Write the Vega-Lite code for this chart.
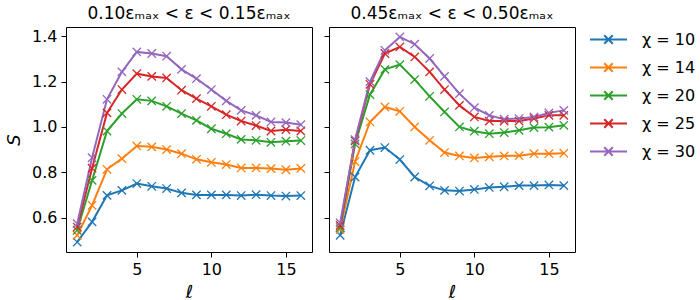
{
"$schema": "https://vega.github.io/schema/vega-lite/v6.json",
"background": "white",
"padding": {"left": 5, "top": 4, "right": 5, "bottom": 5},
"datasets": {"d": [
{"p":"A","c":"χ = 10","l":1,"S":0.492},{"p":"A","c":"χ = 10","l":2,"S":0.581},{"p":"A","c":"χ = 10","l":3,"S":0.698},{"p":"A","c":"χ = 10","l":4,"S":0.720},{"p":"A","c":"χ = 10","l":5,"S":0.750},{"p":"A","c":"χ = 10","l":6,"S":0.738},{"p":"A","c":"χ = 10","l":7,"S":0.728},{"p":"A","c":"χ = 10","l":8,"S":0.709},{"p":"A","c":"χ = 10","l":9,"S":0.700},{"p":"A","c":"χ = 10","l":10,"S":0.700},{"p":"A","c":"χ = 10","l":11,"S":0.700},{"p":"A","c":"χ = 10","l":12,"S":0.697},{"p":"A","c":"χ = 10","l":13,"S":0.701},{"p":"A","c":"χ = 10","l":14,"S":0.697},{"p":"A","c":"χ = 10","l":15,"S":0.695},{"p":"A","c":"χ = 10","l":16,"S":0.697},
{"p":"A","c":"χ = 14","l":1,"S":0.522},{"p":"A","c":"χ = 14","l":2,"S":0.654},{"p":"A","c":"χ = 14","l":3,"S":0.813},{"p":"A","c":"χ = 14","l":4,"S":0.860},{"p":"A","c":"χ = 14","l":5,"S":0.916},{"p":"A","c":"χ = 14","l":6,"S":0.912},{"p":"A","c":"χ = 14","l":7,"S":0.900},{"p":"A","c":"χ = 14","l":8,"S":0.882},{"p":"A","c":"χ = 14","l":9,"S":0.857},{"p":"A","c":"χ = 14","l":10,"S":0.844},{"p":"A","c":"χ = 14","l":11,"S":0.834},{"p":"A","c":"χ = 14","l":12,"S":0.819},{"p":"A","c":"χ = 14","l":13,"S":0.819},{"p":"A","c":"χ = 14","l":14,"S":0.816},{"p":"A","c":"χ = 14","l":15,"S":0.811},{"p":"A","c":"χ = 14","l":16,"S":0.817},
{"p":"A","c":"χ = 20","l":1,"S":0.544},{"p":"A","c":"χ = 20","l":2,"S":0.764},{"p":"A","c":"χ = 20","l":3,"S":0.982},{"p":"A","c":"χ = 20","l":4,"S":1.059},{"p":"A","c":"χ = 20","l":5,"S":1.122},{"p":"A","c":"χ = 20","l":6,"S":1.115},{"p":"A","c":"χ = 20","l":7,"S":1.091},{"p":"A","c":"χ = 20","l":8,"S":1.059},{"p":"A","c":"χ = 20","l":9,"S":1.029},{"p":"A","c":"χ = 20","l":10,"S":0.992},{"p":"A","c":"χ = 20","l":11,"S":0.970},{"p":"A","c":"χ = 20","l":12,"S":0.945},{"p":"A","c":"χ = 20","l":13,"S":0.941},{"p":"A","c":"χ = 20","l":14,"S":0.932},{"p":"A","c":"χ = 20","l":15,"S":0.937},{"p":"A","c":"χ = 20","l":16,"S":0.940},
{"p":"A","c":"χ = 25","l":1,"S":0.558},{"p":"A","c":"χ = 25","l":2,"S":0.818},{"p":"A","c":"χ = 25","l":3,"S":1.062},{"p":"A","c":"χ = 25","l":4,"S":1.165},{"p":"A","c":"χ = 25","l":5,"S":1.235},{"p":"A","c":"χ = 25","l":6,"S":1.223},{"p":"A","c":"χ = 25","l":7,"S":1.216},{"p":"A","c":"χ = 25","l":8,"S":1.162},{"p":"A","c":"χ = 25","l":9,"S":1.125},{"p":"A","c":"χ = 25","l":10,"S":1.091},{"p":"A","c":"χ = 25","l":11,"S":1.054},{"p":"A","c":"χ = 25","l":12,"S":1.026},{"p":"A","c":"χ = 25","l":13,"S":1.006},{"p":"A","c":"χ = 25","l":14,"S":0.982},{"p":"A","c":"χ = 25","l":15,"S":0.988},{"p":"A","c":"χ = 25","l":16,"S":0.982},
{"p":"A","c":"χ = 30","l":1,"S":0.573},{"p":"A","c":"χ = 30","l":2,"S":0.864},{"p":"A","c":"χ = 30","l":3,"S":1.122},{"p":"A","c":"χ = 30","l":4,"S":1.243},{"p":"A","c":"χ = 30","l":5,"S":1.331},{"p":"A","c":"χ = 30","l":6,"S":1.324},{"p":"A","c":"χ = 30","l":7,"S":1.312},{"p":"A","c":"χ = 30","l":8,"S":1.254},{"p":"A","c":"χ = 30","l":9,"S":1.213},{"p":"A","c":"χ = 30","l":10,"S":1.165},{"p":"A","c":"χ = 30","l":11,"S":1.115},{"p":"A","c":"χ = 30","l":12,"S":1.073},{"p":"A","c":"χ = 30","l":13,"S":1.051},{"p":"A","c":"χ = 30","l":14,"S":1.022},{"p":"A","c":"χ = 30","l":15,"S":1.019},{"p":"A","c":"χ = 30","l":16,"S":1.010},
{"p":"B","c":"χ = 10","l":1,"S":0.522},{"p":"B","c":"χ = 10","l":2,"S":0.779},{"p":"B","c":"χ = 10","l":3,"S":0.897},{"p":"B","c":"χ = 10","l":4,"S":0.909},{"p":"B","c":"χ = 10","l":5,"S":0.856},{"p":"B","c":"χ = 10","l":6,"S":0.779},{"p":"B","c":"χ = 10","l":7,"S":0.740},{"p":"B","c":"χ = 10","l":8,"S":0.720},{"p":"B","c":"χ = 10","l":9,"S":0.717},{"p":"B","c":"χ = 10","l":10,"S":0.724},{"p":"B","c":"χ = 10","l":11,"S":0.733},{"p":"B","c":"χ = 10","l":12,"S":0.736},{"p":"B","c":"χ = 10","l":13,"S":0.741},{"p":"B","c":"χ = 10","l":14,"S":0.741},{"p":"B","c":"χ = 10","l":15,"S":0.744},{"p":"B","c":"χ = 10","l":16,"S":0.741},
{"p":"B","c":"χ = 14","l":1,"S":0.548},{"p":"B","c":"χ = 14","l":2,"S":0.847},{"p":"B","c":"χ = 14","l":3,"S":1.022},{"p":"B","c":"χ = 14","l":4,"S":1.088},{"p":"B","c":"χ = 14","l":5,"S":1.069},{"p":"B","c":"χ = 14","l":6,"S":1.000},{"p":"B","c":"χ = 14","l":7,"S":0.941},{"p":"B","c":"χ = 14","l":8,"S":0.887},{"p":"B","c":"χ = 14","l":9,"S":0.872},{"p":"B","c":"χ = 14","l":10,"S":0.863},{"p":"B","c":"χ = 14","l":11,"S":0.868},{"p":"B","c":"χ = 14","l":12,"S":0.872},{"p":"B","c":"χ = 14","l":13,"S":0.873},{"p":"B","c":"χ = 14","l":14,"S":0.882},{"p":"B","c":"χ = 14","l":15,"S":0.882},{"p":"B","c":"χ = 14","l":16,"S":0.884},
{"p":"B","c":"χ = 20","l":1,"S":0.556},{"p":"B","c":"χ = 20","l":2,"S":0.925},{"p":"B","c":"χ = 20","l":3,"S":1.143},{"p":"B","c":"χ = 20","l":4,"S":1.254},{"p":"B","c":"χ = 20","l":5,"S":1.275},{"p":"B","c":"χ = 20","l":6,"S":1.209},{"p":"B","c":"χ = 20","l":7,"S":1.135},{"p":"B","c":"χ = 20","l":8,"S":1.066},{"p":"B","c":"χ = 20","l":9,"S":1.000},{"p":"B","c":"χ = 20","l":10,"S":0.981},{"p":"B","c":"χ = 20","l":11,"S":0.970},{"p":"B","c":"χ = 20","l":12,"S":0.975},{"p":"B","c":"χ = 20","l":13,"S":0.985},{"p":"B","c":"χ = 20","l":14,"S":0.997},{"p":"B","c":"χ = 20","l":15,"S":0.999},{"p":"B","c":"χ = 20","l":16,"S":1.007},
{"p":"B","c":"χ = 25","l":1,"S":0.565},{"p":"B","c":"χ = 25","l":2,"S":0.938},{"p":"B","c":"χ = 25","l":3,"S":1.188},{"p":"B","c":"χ = 25","l":4,"S":1.324},{"p":"B","c":"χ = 25","l":5,"S":1.353},{"p":"B","c":"χ = 25","l":6,"S":1.309},{"p":"B","c":"χ = 25","l":7,"S":1.243},{"p":"B","c":"χ = 25","l":8,"S":1.165},{"p":"B","c":"χ = 25","l":9,"S":1.095},{"p":"B","c":"χ = 25","l":10,"S":1.044},{"p":"B","c":"χ = 25","l":11,"S":1.026},{"p":"B","c":"χ = 25","l":12,"S":1.026},{"p":"B","c":"χ = 25","l":13,"S":1.026},{"p":"B","c":"χ = 25","l":14,"S":1.037},{"p":"B","c":"χ = 25","l":15,"S":1.051},{"p":"B","c":"χ = 25","l":16,"S":1.051},
{"p":"B","c":"χ = 30","l":1,"S":0.576},{"p":"B","c":"χ = 30","l":2,"S":0.944},{"p":"B","c":"χ = 30","l":3,"S":1.200},{"p":"B","c":"χ = 30","l":4,"S":1.338},{"p":"B","c":"χ = 30","l":5,"S":1.397},{"p":"B","c":"χ = 30","l":6,"S":1.365},{"p":"B","c":"χ = 30","l":7,"S":1.302},{"p":"B","c":"χ = 30","l":8,"S":1.223},{"p":"B","c":"χ = 30","l":9,"S":1.147},{"p":"B","c":"χ = 30","l":10,"S":1.085},{"p":"B","c":"χ = 30","l":11,"S":1.051},{"p":"B","c":"χ = 30","l":12,"S":1.034},{"p":"B","c":"χ = 30","l":13,"S":1.037},{"p":"B","c":"χ = 30","l":14,"S":1.044},{"p":"B","c":"χ = 30","l":15,"S":1.062},{"p":"B","c":"χ = 30","l":16,"S":1.073}
]},
"spacing": 10,
"hconcat": [
 {
  "width": 246, "height": 225,
  "title": "0.10εₘₐₓ < ε < 0.15εₘₐₓ",
  "data": {"name": "d"},
  "transform": [{"filter": "datum.p == 'A'"}],
  "encoding": {
   "x": {"field": "l", "type": "quantitative", "scale": {"domain": [0.25, 16.75], "nice": false, "zero": false}, "axis": {"values": [5, 10, 15], "title": "ℓ"}},
   "y": {"field": "S", "type": "quantitative", "scale": {"domain": [0.448, 1.441], "nice": false, "zero": false}, "axis": {"values": [0.6, 0.8, 1.0, 1.2, 1.4], "format": ".1f", "title": "S", "titleFontStyle": "italic"}},
   "color": {"field": "c", "type": "nominal", "scale": {"domain": ["χ = 10", "χ = 14", "χ = 20", "χ = 25", "χ = 30"], "range": ["#1f77b4", "#ff7f0e", "#2ca02c", "#d62728", "#9467bd"]}, "title": null}
  },
  "layer": [
   {"mark": {"type": "line", "strokeWidth": 2}},
   {"mark": {"type": "point", "shape": "M-1,-1L1,1M-1,1L1,-1", "filled": false, "size": 70, "strokeWidth": 1.3, "opacity": 1}}
  ]
 },
 {
  "width": 246, "height": 225,
  "title": "0.45εₘₐₓ < ε < 0.50εₘₐₓ",
  "data": {"name": "d"},
  "transform": [{"filter": "datum.p == 'B'"}],
  "encoding": {
   "x": {"field": "l", "type": "quantitative", "scale": {"domain": [0.25, 16.75], "nice": false, "zero": false}, "axis": {"values": [5, 10, 15], "title": "ℓ"}},
   "y": {"field": "S", "type": "quantitative", "scale": {"domain": [0.448, 1.441], "nice": false, "zero": false}, "axis": {"values": [0.6, 0.8, 1.0, 1.2, 1.4], "labels": false, "title": null}},
   "color": {"field": "c", "type": "nominal", "scale": {"domain": ["χ = 10", "χ = 14", "χ = 20", "χ = 25", "χ = 30"], "range": ["#1f77b4", "#ff7f0e", "#2ca02c", "#d62728", "#9467bd"]}, "title": null}
  },
  "layer": [
   {"mark": {"type": "line", "strokeWidth": 2}},
   {"mark": {"type": "point", "shape": "M-1,-1L1,1M-1,1L1,-1", "filled": false, "size": 70, "strokeWidth": 1.3, "opacity": 1}}
  ]
 }
],
"resolve": {"scale": {"color": "shared"}},
"config": {
 "font": "DejaVu Sans",
 "view": {"stroke": "black", "strokeWidth": 1},
 "title": {"fontSize": 17, "fontWeight": "normal", "color": "black", "offset": 4, "font": "DejaVu Sans"},
 "axis": {"grid": false, "domain": false, "tickColor": "black", "tickSize": 5, "tickWidth": 1, "labelFontSize": 16, "labelColor": "black", "labelPadding": 4, "titleFontSize": 18, "titleFontWeight": "normal", "titleColor": "black", "labelFont": "DejaVu Sans", "titleFont": "DejaVu Sans"},
 "axisX": {"titlePadding": 6},
 "axisY": {"titlePadding": 8},
 "legend": {"orient": "none", "legendX": 523, "legendY": -7, "padding": 0, "labelFontSize": 16, "labelColor": "black", "labelFont": "DejaVu Sans", "symbolType": "M-1,0H1M-0.23,-0.23L0.23,0.23M-0.23,0.23L0.23,-0.23", "symbolSize": 1369, "symbolStrokeWidth": 2, "labelOffset": 14, "rowPadding": -1}
}
}
